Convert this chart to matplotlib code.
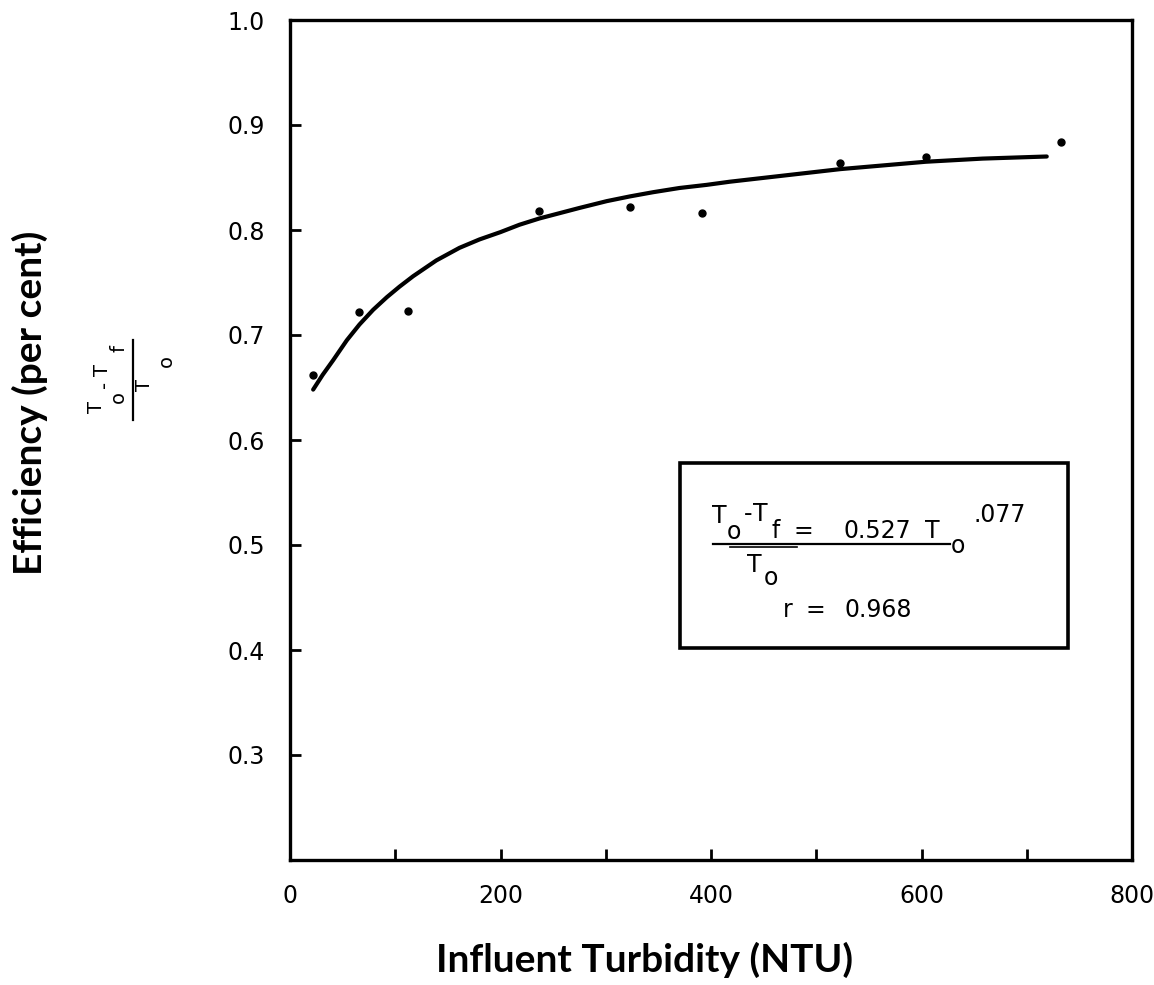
import matplotlib
matplotlib.use("Agg")
import matplotlib.pyplot as plt
from matplotlib.patches import Rectangle
from matplotlib.lines import Line2D

# ---- data ----
turbidity = [22, 66, 112, 237, 323, 391, 523, 604, 733]
efficiency = [0.662, 0.722, 0.723, 0.818, 0.822, 0.816, 0.864, 0.870, 0.884]

# fitted curve as drawn in the figure
curve_x = [22, 31, 41, 54, 66, 79, 92, 104, 117, 139, 161, 180, 200, 218, 237, 256,
           275, 301, 323, 345, 370, 396, 418, 453, 523, 604, 658, 719]
curve_y = [0.648, 0.662, 0.676, 0.695, 0.710, 0.724, 0.736, 0.746, 0.756, 0.771,
           0.783, 0.791, 0.798, 0.805, 0.811, 0.816, 0.821, 0.8275, 0.832, 0.836,
           0.840, 0.843, 0.846, 0.850, 0.858, 0.865, 0.868, 0.870]

x_ticks = [0, 100, 200, 300, 400, 500, 600, 700, 800]
x_labels = ["0", "", "200", "", "400", "", "600", "", "800"]
y_ticks = [0.3, 0.4, 0.5, 0.6, 0.7, 0.8, 0.9, 1.0]
y_labels = ["0.3", "0.4", "0.5", "0.6", "0.7", "0.8", "0.9", "1.0"]

W, H = 1154, 985
fig = plt.figure(figsize=(W / 100, H / 100), dpi=100)
ax = fig.add_axes([290 / W, 1 - 860 / H, (1132 - 290) / W, (860 - 20) / H])

tick_font = "DejaVu Sans"
label_font = "Lato"

ax.plot(curve_x, curve_y, color="black", lw=3.0, solid_capstyle="round",
        solid_joinstyle="round")
ax.plot(turbidity, efficiency, "o", color="black", ms=5)

ax.set_xlim(0, 800)
ax.set_ylim(0.2, 1.0)
ax.set_xticks(x_ticks)
ax.set_xticklabels(x_labels, fontsize=17, family=tick_font)
ax.set_yticks(y_ticks)
ax.set_yticklabels(y_labels, fontsize=17, family=tick_font)
ax.tick_params(axis="both", direction="in", length=8, width=2)
ax.tick_params(axis="x", pad=17)
ax.tick_params(axis="y", pad=18)
for s in ax.spines.values():
    s.set_linewidth(2.4)


def P(x, y):
    return x / W, 1 - y / H


# axis labels
fig.text(*P(30, 403), "Efficiency (per cent)", rotation=90, ha="center", va="center",
         fontsize=28, fontweight="bold", family=label_font)
fig.text(*P(645, 972), "Influent Turbidity (NTU)", ha="center", va="baseline",
         fontsize=28, fontweight="bold", family=label_font)

# rotated fraction next to the y label
rot = dict(rotation=90, family=tick_font, fontsize=14, ha="center", va="center")
fig.text(*P(96, 407), "T", **rot)
fig.text(*P(118, 397), "o", **rot)
fig.text(*P(104, 384), "-", **rot)
fig.text(*P(103, 370), "T", **rot)
fig.text(*P(119, 348), "f", **rot)
fig.add_artist(Line2D([133 / W, 133 / W], [1 - 340 / H, 1 - 420 / H], color="black", lw=1.6,
                      transform=fig.transFigure))
fig.text(*P(144, 385), "T", **rot)
fig.text(*P(166, 361), "o", **rot)

# equation box
box = Rectangle((680 / W, 1 - 648 / H), (1068 - 680) / W, (648 - 463) / H,
                transform=fig.transFigure, fill=False, lw=2.6, edgecolor="black")
fig.add_artist(box)

eq = dict(family=tick_font, fontsize=17, ha="left", va="baseline")
fig.text(*P(712, 523), "T", **eq)
fig.text(*P(727, 539), "o", **eq)
fig.text(*P(744, 521), "-", **eq)
fig.text(*P(753, 521), "T", **eq)
fig.text(*P(772, 538), "f", **eq)
fig.text(*P(793, 538), "=", **eq)
fig.text(*P(843, 538), "0.527", **eq)
fig.text(*P(925, 538), "T", **eq)
fig.text(*P(951, 553), "o", **eq)
fig.text(*P(974, 522), ".077", **eq)
fig.add_artist(Line2D([713 / W, 950 / W], [1 - 544 / H, 1 - 544 / H], color="black", lw=1.6,
                      transform=fig.transFigure))
fig.add_artist(Line2D([730 / W, 797 / W], [1 - 547 / H, 1 - 547 / H], color="black", lw=1.2,
                      transform=fig.transFigure))
fig.text(*P(747, 572), "T", **eq)
fig.text(*P(764, 585), "o", **eq)
fig.text(*P(783, 617), "r", **eq)
fig.text(*P(805, 617), "=", **eq)
fig.text(*P(845, 617), "0.968", **eq)

fig.savefig("out.png", dpi=100, facecolor="white")
